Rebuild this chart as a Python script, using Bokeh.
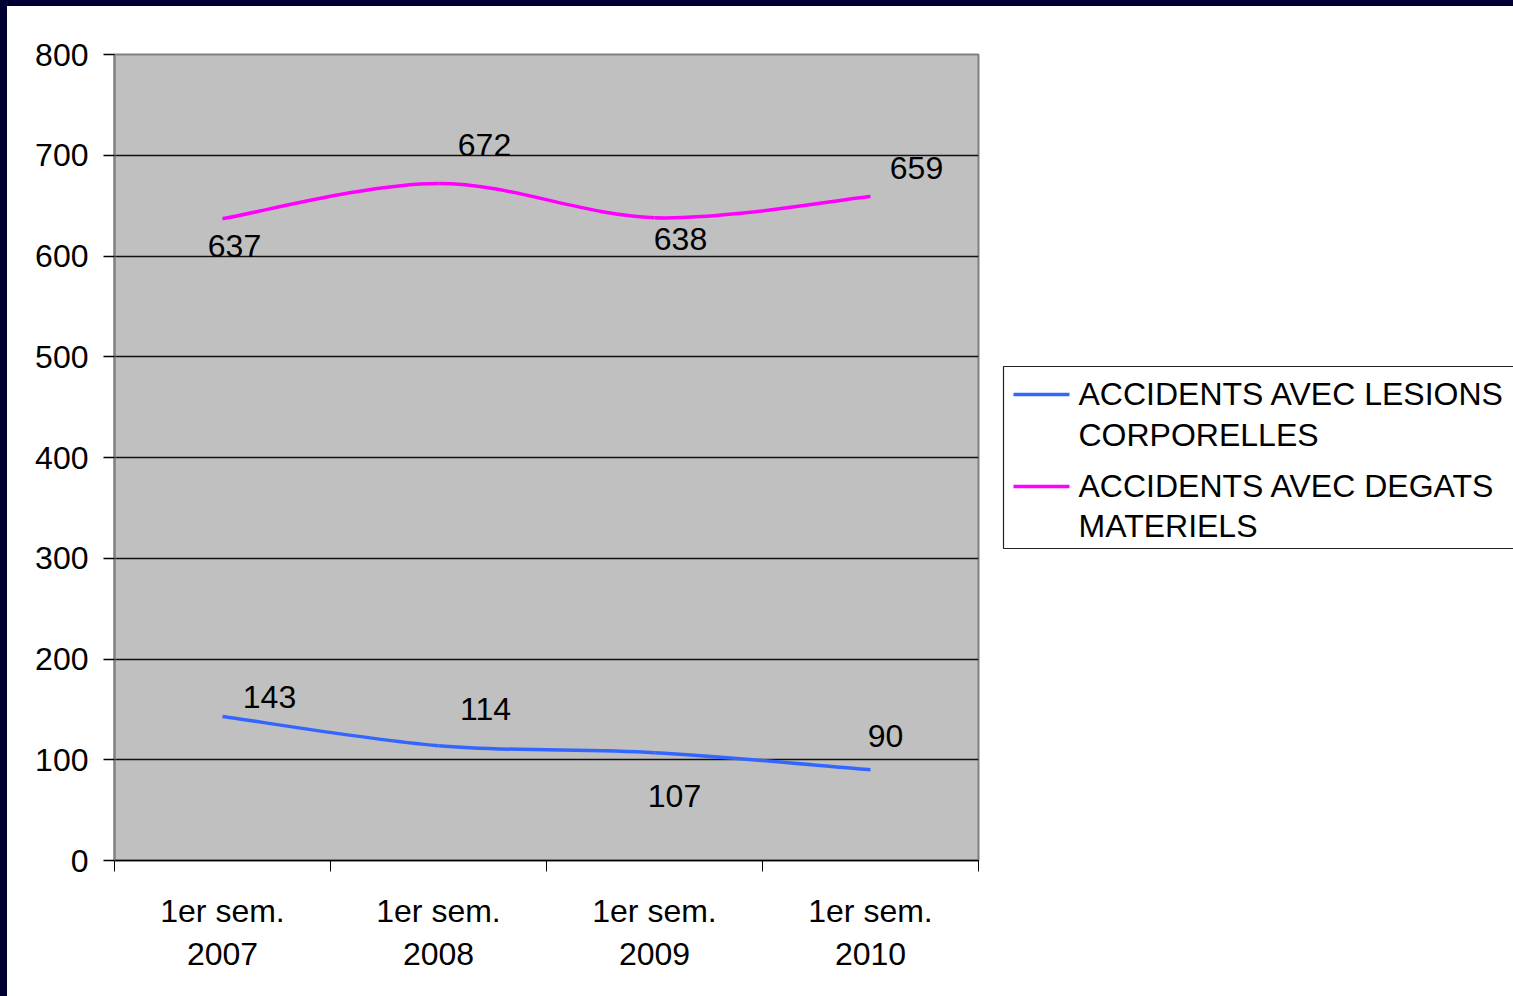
import numpy as np
from bokeh.plotting import figure
from bokeh.layouts import row, column
from bokeh.models import (ColumnDataSource, Range1d, FixedTicker, Div)
from bokeh.core.properties import value
from bokeh.embed import file_html
from bokeh.resources import INLINE

# ---- data ----
categories = ["1er sem.\n2007", "1er sem.\n2008", "1er sem.\n2009", "1er sem.\n2010"]
lesions = [143, 114, 107, 90]
degats = [637, 672, 638, 659]
series_names = ["ACCIDENTS AVEC LESIONS\nCORPORELLES", "ACCIDENTS AVEC DEGATS\nMATERIELS"]
y_ticks = [0, 100, 200, 300, 400, 500, 600, 700, 800]

# ---- styles ----
colors = ["#3366FF", "#FF00FF"]
NAVY = "#000033"
FONT = "Liberation Sans"
LW = 3.5
# label offsets in screen px (dx, dy) for each point
lesions_off = [(47, -19), (47, -37), (20, 43), (15, -34)]
degats_off = [(12, 27), (46, -38), (26, 21), (46, -29)]

xs = np.arange(len(categories)) + 0.5

p = figure(width=993, height=990, output_backend="svg", toolbar_location=None,
           x_range=Range1d(0, 4), y_range=Range1d(0, 800),
           min_border_left=107, min_border_top=48, min_border_right=22, min_border_bottom=136)
p.background_fill_color = "#C0C0C0"
p.border_fill_color = "white"
p.outline_line_color = "#808080"
p.outline_line_width = 2


def smooth_segments(x, y):
    # Excel-style smoothed line: cubic bezier control points from neighbouring points
    x = np.asarray(x, float)
    y = np.asarray(y, float)
    n = len(x)
    px = np.concatenate([[x[0]], x, [x[-1]]])
    py = np.concatenate([[y[0]], y, [y[-1]]])
    d = dict(x0=[], y0=[], x1=[], y1=[], cx0=[], cy0=[], cx1=[], cy1=[])
    for i in range(n - 1):
        p0x, p0y = px[i], py[i]
        p1x, p1y = px[i + 1], py[i + 1]
        p2x, p2y = px[i + 2], py[i + 2]
        p3x, p3y = px[i + 3], py[i + 3]
        d["x0"].append(p1x); d["y0"].append(p1y)
        d["x1"].append(p2x); d["y1"].append(p2y)
        d["cx0"].append(p1x + (p2x - p0x) / 6); d["cy0"].append(p1y + (p2y - p0y) / 6)
        d["cx1"].append(p2x - (p3x - p1x) / 6); d["cy1"].append(p2y - (p3y - p1y) / 6)
    return ColumnDataSource(d)


# grid
p.xgrid.visible = False
p.ygrid.grid_line_color = "#111111"
p.ygrid.grid_line_width = 1.3
p.ygrid.ticker = FixedTicker(ticks=y_ticks)

for vals, col, offs in [(lesions, colors[0], lesions_off), (degats, colors[1], degats_off)]:
    src = smooth_segments(xs, vals)
    p.bezier(x0="x0", y0="y0", x1="x1", y1="y1", cx0="cx0", cy0="cy0", cx1="cx1", cy1="cy1",
             source=src, line_color=col, line_width=LW)
    lab = ColumnDataSource(dict(x=xs, y=vals, t=[str(v) for v in vals],
                                dx=[o[0] for o in offs], dy=[o[1] for o in offs]))
    p.text(x="x", y="y", text="t", source=lab, x_offset="dx", y_offset="dy",
           text_font=value(FONT), text_font_size="32px", text_color="black",
           text_align="center", text_baseline="middle")

# axes
xa = p.xaxis[0]
xa.ticker = FixedTicker(ticks=list(xs), minor_ticks=[0, 1, 2, 3, 4])
xa.major_label_overrides = {float(x): c for x, c in zip(xs, categories)}
xa.major_tick_out = 0
xa.major_tick_in = 0
xa.minor_tick_out = 11
xa.minor_tick_in = 0
xa.minor_tick_line_color = "black"
xa.axis_line_color = "black"
xa.axis_line_width = 1.5
xa.major_label_text_font = FONT
xa.major_label_text_font_size = "32px"
xa.major_label_text_color = "black"
xa.major_label_standoff = 21

ya = p.yaxis[0]
ya.ticker = FixedTicker(ticks=y_ticks)
ya.major_tick_out = 11
ya.major_tick_in = 0
ya.minor_tick_out = 0
ya.minor_tick_in = 0
ya.major_tick_line_color = "black"
ya.major_tick_line_width = 1.3
ya.axis_line_color = "#808080"
ya.axis_line_width = 2
ya.major_label_text_font = FONT
ya.major_label_text_font_size = "32px"
ya.major_label_text_color = "black"
ya.major_label_standoff = 15

# ---- legend panel (page-pixel coordinates, y downwards; its frame aligns with the main frame) ----
lg = figure(width=513, height=990, output_backend="svg", toolbar_location=None,
            x_range=Range1d(0, 513), y_range=Range1d(860, 54),
            min_border=0, x_axis_type=None, y_axis_type=None)
lg.grid.visible = False
lg.outline_line_color = None
lg.background_fill_color = "white"
lg.border_fill_color = "white"

box_left, box_top, box_bottom, box_right = 3, 366, 548, 540
lg.quad(left=[box_left], right=[box_right], top=[box_top], bottom=[box_bottom],
        fill_color="white", line_color="#222222", line_width=1.2)
item_line_y = [394, 486]
leg_src = ColumnDataSource(dict(x0=[13, 13], x1=[69, 69], y=item_line_y, color=colors))
lg.segment(x0="x0", y0="y", x1="x1", y1="y", line_color="color", line_width=LW, source=leg_src)

text_line_y = [[393, 434], [485, 525]]
tx, ty, tt = [], [], []
for name, ys in zip(series_names, text_line_y):
    for line, yy in zip(name.split("\n"), ys):
        tx.append(78); ty.append(yy); tt.append(line)
lg.text(x=tx, y=ty, text=tt, text_font=value(FONT),
        text_font_size="32px", text_color="black", text_align="left",
        text_baseline="middle")

# navy slide frame along the top and left edges
top_strip = Div(text="", width=1513, height=6, margin=0, styles={"background-color": NAVY})
left_strip = Div(text="", width=7, height=990, margin=0, styles={"background-color": NAVY})

layout = column(top_strip, row(left_strip, p, lg, spacing=0), spacing=0)
open("out.html", "w").write(file_html(layout, INLINE))
